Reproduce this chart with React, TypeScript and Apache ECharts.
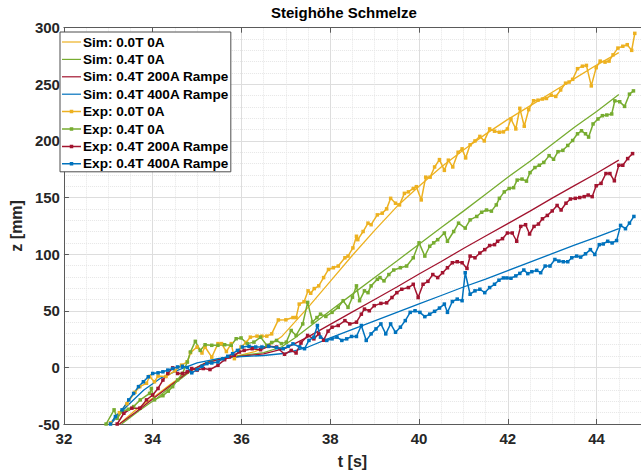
import React, { useEffect, useRef } from "react";
import * as echarts from "echarts";

const titleText = "Steighöhe Schmelze";
const xName = "t [s]";
const yName = "z [mm]";
const seriesNames = [
  "Sim: 0.0T 0A",
  "Sim: 0.4T 0A",
  "Sim: 0.4T 200A Rampe",
  "Sim: 0.4T 400A Rampe",
  "Exp: 0.0T 0A",
  "Exp: 0.4T 0A",
  "Exp: 0.4T 200A Rampe",
  "Exp: 0.4T 400A Rampe",
];
const colors = ["#EDB120", "#77AC30", "#A2142F", "#0072BD"];

const simOrange: [number, number][] = [
  [33.25, -50], [33.6, -38], [34.0, -27], [34.4, -15], [34.8, -4], [35.2, 4], [35.6, 8], [36.0, 11],
  [36.3, 14], [36.6, 19], [36.9, 27], [37.2, 40], [37.5, 53], [38.0, 76], [38.5, 99], [39.0, 121],
  [39.5, 142], [40.0, 160], [40.5, 177], [41.0, 192], [41.5, 206], [42.0, 219], [42.5, 231],
  [43.0, 243], [43.5, 255], [44.0, 267], [44.5, 278],
];
const simGreen: [number, number][] = [
  [33.3, -50], [33.7, -38], [34.1, -27], [34.5, -14], [34.9, -2], [35.3, 6], [35.7, 9], [36.1, 11],
  [36.5, 13], [36.9, 18], [37.2, 26], [37.5, 35], [38.0, 50], [38.5, 64.7], [39.0, 79.4], [39.5, 94],
  [40.0, 108.8], [40.5, 123.5], [41.0, 138], [41.5, 153], [42.0, 168], [42.5, 182], [43.0, 197],
  [43.5, 212], [44.0, 226], [44.5, 241],
];
const simRed: [number, number][] = [
  [33.25, -50], [33.6, -40], [34.0, -28], [34.4, -16], [34.8, -4], [35.2, 4], [35.6, 8], [36.0, 10],
  [36.5, 12], [37.0, 17], [37.5, 27], [38.0, 38], [38.5, 49], [39.0, 60], [39.5, 71], [40.0, 82.5],
  [40.5, 93.5], [41.0, 105], [41.5, 116], [42.0, 127], [42.5, 138], [43.0, 149.5], [43.5, 160.5],
  [44.0, 171.5], [44.5, 183],
];
const simBlue: [number, number][] = [
  [33.05, -50], [33.4, -35], [33.8, -20], [34.2, -9], [34.6, -2], [35.0, 4], [35.5, 8], [36.0, 9.5],
  [36.5, 10.5], [37.0, 12.5], [37.5, 18], [38.0, 26], [38.5, 33.5], [39.0, 41], [39.5, 48.5],
  [40.0, 56], [40.5, 63.5], [41.0, 71], [41.5, 78], [42.0, 85.5], [42.5, 93], [43.0, 100.5],
  [43.5, 108], [44.0, 115], [44.5, 122.5],
];

const expOrange: [number, number][] = [
  [33.05, -49], [33.25, -40], [33.42, -32], [33.6, -22], [33.71, -17], [33.86, -14], [33.93, -8],
  [34.04, -12.7], [34.12, -7.7], [34.3, -8], [34.5, -3], [34.65, 2], [34.78, 4.8], [34.85, 13],
  [35.0, 18], [35.11, 12.7], [35.18, 18], [35.33, 9], [35.47, 21], [35.55, 21], [35.66, 14],
  [35.77, 21], [35.84, 7.7], [35.99, 18], [36.1, 22], [36.2, 26.7], [36.35, 27.6], [36.46, 27.6],
  [36.57, 27.6], [36.68, 29.6], [36.83, 41.9], [37.0, 42], [37.16, 44], [37.23, 44], [37.3, 55.9],
  [37.41, 58], [37.5, 67.6], [37.56, 65.5], [37.64, 69.6], [37.74, 72], [37.85, 79.3], [37.96, 86.5],
  [38.07, 88], [38.18, 89.5], [38.33, 96.8], [38.4, 98.3], [38.51, 105.5], [38.59, 115.8],
  [38.62, 112.8], [38.74, 120], [38.85, 127.4], [38.92, 126], [39.06, 134.7], [39.17, 136.2],
  [39.27, 140], [39.36, 149.3], [39.47, 145], [39.56, 143.5], [39.67, 153.7], [39.76, 155],
  [39.87, 158], [39.94, 159.6], [40.05, 147.9], [40.15, 168], [40.25, 168], [40.35, 177],
  [40.46, 183.5], [40.57, 174], [40.66, 183], [40.76, 177], [40.88, 190], [40.97, 193], [41.05, 185],
  [41.15, 196.6], [41.26, 200], [41.37, 204], [41.47, 200], [41.59, 210.6], [41.7, 208.6],
  [41.81, 207.7], [41.9, 208], [41.99, 210.6], [42.07, 219.4], [42.18, 210.6], [42.27, 228.8],
  [42.37, 213], [42.47, 227.6], [42.58, 235.5], [42.68, 236], [42.78, 237], [42.87, 237.5],
  [42.98, 240.4], [43.08, 239.3], [43.19, 245], [43.3, 251], [43.38, 252], [43.46, 254.4],
  [43.57, 263.8], [43.68, 266], [43.77, 266.7], [43.88, 248.6], [43.99, 264.7], [44.08, 270.5],
  [44.19, 269.6], [44.28, 270.5], [44.37, 276], [44.48, 282], [44.59, 283.6], [44.69, 285],
  [44.79, 280], [44.86, 295],
];
const expGreen: [number, number][] = [
  [32.95, -50], [33.13, -37.5], [33.2, -45], [33.31, -39], [33.45, -37], [33.57, -34.6],
  [33.72, -28.7], [33.93, -23], [33.97, -18.6], [34.04, -28.7], [34.23, -25], [34.35, -21],
  [34.45, -17], [34.56, -11], [34.67, -5.4], [34.78, 4.8], [34.85, 13.6], [34.96, 23], [35.07, 15],
  [35.18, 20], [35.33, 19.5], [35.47, 19.5], [35.62, 20], [35.77, 19.5], [35.88, 25.3], [35.99, 26],
  [36.13, 21], [36.28, 22.3], [36.43, 26.7], [36.57, 19.5], [36.68, 22], [36.79, 23.8], [36.9, 21],
  [37.01, 22.3], [37.12, 32.6], [37.23, 28.2], [37.38, 38.4], [37.49, 57.4], [37.6, 40], [37.7, 44],
  [37.78, 47], [37.9, 45], [38.04, 48.6], [38.18, 53], [38.29, 58.9], [38.4, 53], [38.5, 62],
  [38.59, 72], [38.66, 58.9], [38.77, 67.6], [38.85, 66], [38.92, 72], [39.06, 77.8], [39.12, 79.3],
  [39.21, 76.4], [39.32, 82], [39.43, 86], [39.58, 88], [39.72, 89.5], [39.87, 96.8], [40.0, 110],
  [40.13, 98.3], [40.24, 107], [40.33, 110], [40.42, 112.8], [40.57, 118.7], [40.64, 111.4],
  [40.78, 120], [40.89, 127.4], [41.04, 123], [41.15, 130.3], [41.3, 133.3], [41.41, 137],
  [41.52, 139], [41.63, 138], [41.74, 143.5], [41.81, 149.3], [41.92, 155], [42.03, 158],
  [42.13, 158.7], [42.21, 165.4], [42.32, 166.3], [42.42, 164.5], [42.5, 172], [42.61, 176.5],
  [42.71, 178.5], [42.81, 181], [42.93, 187], [43.03, 183.8], [43.13, 190.5], [43.24, 191.7],
  [43.35, 196], [43.46, 200.4], [43.57, 206.3], [43.66, 209], [43.75, 206.3], [43.82, 203.4],
  [43.92, 215], [44.03, 219.4], [44.13, 222.3], [44.23, 222.9], [44.34, 223.8], [44.41, 235.4],
  [44.52, 234.6], [44.63, 230.5], [44.74, 241.3], [44.83, 244.2],
];
const expRed: [number, number][] = [
  [33.2, -50], [33.35, -40.5], [33.53, -36], [33.71, -36], [33.86, -28.7], [34.0, -24.4],
  [34.12, -18.6], [34.23, -11.2], [34.34, -5.4], [34.45, -0.4], [34.56, -5.4], [34.67, -5.4],
  [34.78, -3.9], [34.88, -1], [35.0, -2.4], [35.14, -1], [35.29, -1.9], [35.47, 1.9], [35.62, 6.8],
  [35.73, 9.2], [35.84, 10.7], [35.95, 13.6], [36.06, 15], [36.24, 16.5], [36.43, 15.6],
  [36.61, 18.6], [36.79, 18], [36.97, 11.6], [37.12, 15], [37.23, 12.7], [37.34, 21.5],
  [37.49, 28.2], [37.63, 25.2], [37.74, 29.6], [37.85, 24], [37.95, 32], [38.04, 35.5], [38.18, 37],
  [38.33, 41.3], [38.44, 38.4], [38.59, 39.9], [38.7, 47], [38.77, 51.5], [38.88, 50], [38.99, 54.5],
  [39.14, 56.5], [39.27, 57], [39.39, 61.7], [39.5, 66], [39.61, 69], [39.76, 70.5], [39.87, 73.4],
  [39.98, 61.7], [40.09, 73.4], [40.2, 76], [40.31, 82], [40.42, 79.3], [40.53, 83.6], [40.64, 88],
  [40.75, 92.4], [40.86, 93.3], [40.97, 92.4], [41.08, 87.4], [41.15, 98.3], [41.26, 96.8],
  [41.37, 101], [41.48, 104], [41.59, 107.6], [41.7, 108.4], [41.77, 111.4], [41.88, 113.7],
  [41.99, 118.7], [42.1, 118.7], [42.2, 111.4], [42.29, 124.5], [42.4, 126], [42.49, 117.8],
  [42.59, 124.5], [42.69, 126.6], [42.78, 131.2], [42.89, 134.2], [43.0, 138.2], [43.11, 143],
  [43.2, 139], [43.31, 145], [43.41, 148.7], [43.52, 149.3], [43.62, 150], [43.72, 150.8],
  [43.81, 152.2], [43.9, 150.8], [43.99, 160.4], [44.1, 162.5], [44.21, 171.2], [44.3, 171.2],
  [44.4, 164.8], [44.5, 178.5], [44.59, 178.5], [44.7, 184.4], [44.81, 188.8],
];
const expBlue: [number, number][] = [
  [33.05, -50], [33.16, -43.4], [33.31, -37.5], [33.46, -28.7], [33.57, -23], [33.68, -17],
  [33.79, -12.7], [33.9, -8.3], [34.0, -5.4], [34.12, -4.8], [34.23, -3.9], [34.34, -2.4],
  [34.45, -1], [34.56, 0.4], [34.67, 1], [34.78, -0.2], [34.88, -4.8], [35.0, -1.9], [35.11, 1],
  [35.22, 3.3], [35.33, 3.9], [35.47, 4.8], [35.58, 7.7], [35.69, 9.8], [35.8, 12.1], [35.91, 15],
  [36.02, 18], [36.17, 18.6], [36.32, 18], [36.46, 18], [36.61, 18.6], [36.79, 17.4], [36.94, 16.5],
  [37.05, 18.6], [37.16, 20.8], [37.31, 18], [37.42, 16.5], [37.52, 23.8], [37.63, 26.7],
  [37.71, 37], [37.78, 26.7], [37.92, 23.8], [38.04, 25.2], [38.15, 26.7], [38.26, 23.8],
  [38.37, 25.2], [38.48, 27.3], [38.59, 27.3], [38.7, 37], [38.81, 23.8], [38.92, 29.6], [39.03, 34],
  [39.14, 38.4], [39.25, 29.6], [39.36, 38.4], [39.47, 31], [39.58, 35.5], [39.69, 41.3],
  [39.8, 48.6], [39.91, 50], [40.02, 48.6], [40.13, 44.8], [40.24, 47], [40.35, 49.5], [40.46, 52.4],
  [40.57, 55.9], [40.64, 48.6], [40.75, 58.2], [40.86, 60.3], [40.97, 58.9], [41.04, 83.6],
  [41.15, 64.6], [41.26, 67.6], [41.37, 69], [41.48, 66], [41.59, 70.5], [41.7, 73.4], [41.8, 77],
  [41.9, 79], [41.98, 79], [42.07, 78.7], [42.18, 80.8], [42.27, 83], [42.36, 86], [42.45, 82.8],
  [42.54, 84.5], [42.65, 85.7], [42.74, 83.6], [42.84, 89.5], [42.95, 89.5], [43.06, 95.3],
  [43.15, 93.9], [43.25, 93.3], [43.35, 93.3], [43.44, 96.8], [43.55, 98.3], [43.64, 97.4],
  [43.75, 100.3], [43.86, 104], [43.96, 99.7], [44.06, 108.4], [44.15, 109], [44.25, 111.4],
  [44.35, 109.9], [44.45, 112], [44.54, 125.4], [44.65, 122.5], [44.74, 127.4], [44.84, 133.3],
];

const xMin = 32;
const xMax = 45;
const xStep = 2;
const yMin = -50;
const yMax = 300;
const yStep = 50;

const FONT = "'Liberation Sans', Arial, Helvetica, sans-serif";

// legend glyphs (line only / line with a small square marker), 19 x 3.5 box
const ICON_LINE = "path://M0 1.15H19V2.35H0Z";
const ICON_MARK = "path://M0 1H19V2.5H0Z M7.75 0H11.25V3.5H7.75Z";

export default function App() {
  const ref = useRef<HTMLDivElement>(null);
  useEffect(() => {
    if (!ref.current) return;
    const chart = echarts.init(ref.current, undefined, { renderer: "svg" });
    const simData = [simOrange, simGreen, simRed, simBlue];
    const expData = [expOrange, expGreen, expRed, expBlue];

    const series: any[] = [];
    simData.forEach((d, i) => {
      series.push({
        name: seriesNames[i],
        type: "line",
        data: d,
        symbol: "none",
        lineStyle: { color: colors[i], width: 1.3 },
        itemStyle: { color: colors[i] },
        silent: true,
        z: 2,
      });
    });
    expData.forEach((d, i) => {
      series.push({
        name: seriesNames[i + 4],
        type: "line",
        data: d,
        symbol: "rect",
        symbolSize: 3.5,
        showAllSymbol: true,
        lineStyle: { color: colors[i], width: 1.5 },
        itemStyle: { color: colors[i] },
        silent: true,
        z: 3,
      });
    });

    const axisLineColor = "#5a5a5a";
    const labelColor = "#262626";

    chart.setOption({
      animation: false,
      title: {
        text: titleText,
        left: 271,
        top: 5,
        textStyle: { fontFamily: FONT, fontWeight: "bold", fontSize: 15, color: "#000" },
        padding: 0,
      },
      legend: {
        orient: "vertical",
        left: 60,
        top: 32,
        padding: [3, 2, 1, 2],
        itemGap: 3.4,
        itemWidth: 19,
        itemHeight: 14,
        symbolKeepAspect: true,
        backgroundColor: "#ffffff",
        borderColor: "#4d4d4d",
        borderWidth: 1,
        borderRadius: 0,
        selectedMode: false,
        textStyle: {
          fontFamily: FONT,
          fontWeight: "bold",
          fontSize: 13.6,
          color: "#000000",
          lineHeight: 14,
          padding: [0, 0, 0, -3],
        },
        data: seriesNames.map((name, i) => ({
          name,
          icon: i < 4 ? ICON_LINE : ICON_MARK,
          itemStyle: { color: colors[i % 4], borderWidth: 0 },
        })),
        z: 10,
      },
      grid: { left: 55.3, top: 27.7, width: 591.7, height: 399.6, containLabel: false },
      xAxis: [
        {
          type: "value",
          min: xMin,
          max: xMax,
          interval: xStep,
          name: xName,
          nameLocation: "middle",
          nameGap: 29,
          nameTextStyle: { fontFamily: FONT, fontWeight: "bold", fontSize: 16, color: labelColor },
          axisLine: { show: true, onZero: false, lineStyle: { color: axisLineColor, width: 1 } },
          axisTick: { show: true, inside: true, length: 5, lineStyle: { color: axisLineColor } },
          axisLabel: {
            margin: 7,
            fontFamily: FONT,
            fontWeight: "bold",
            fontSize: 15,
            color: labelColor,
            showMaxLabel: false,
          },
          splitLine: { show: true, lineStyle: { color: "#dddddd", width: 1 } },
          minorTick: { show: false, splitNumber: 4 },
          minorSplitLine: { show: true, lineStyle: { color: "#e6e6e6", width: 1, type: "dotted" } },
        },
        {
          type: "value",
          position: "top",
          min: xMin,
          max: xMax,
          interval: xStep,
          axisLine: { show: true, onZero: false, lineStyle: { color: axisLineColor, width: 1 } },
          axisTick: { show: true, inside: true, length: 5, lineStyle: { color: axisLineColor } },
          axisLabel: { show: false },
          splitLine: { show: false },
        },
      ],
      yAxis: {
        type: "value",
        min: yMin,
        max: yMax,
        interval: yStep,
        name: yName,
        nameLocation: "middle",
        nameGap: 31,
        nameTextStyle: { fontFamily: FONT, fontWeight: "bold", fontSize: 16, color: labelColor },
        axisLine: { show: true, onZero: false, lineStyle: { color: axisLineColor, width: 1 } },
        axisTick: { show: true, inside: true, length: 5, lineStyle: { color: axisLineColor } },
        axisLabel: { margin: 4, fontFamily: FONT, fontWeight: "bold", fontSize: 15, color: labelColor },
        splitLine: { show: true, lineStyle: { color: "#dddddd", width: 1 } },
        minorTick: { show: false, splitNumber: 5 },
        minorSplitLine: { show: true, lineStyle: { color: "#e6e6e6", width: 1, type: "dotted" } },
      },
      series,
    });
    return () => chart.dispose();
  }, []);
  return (
    <div
      ref={ref}
      style={{ position: "fixed", left: 0, top: 0, width: 641, height: 474, background: "#fff" }}
    />
  );
}
